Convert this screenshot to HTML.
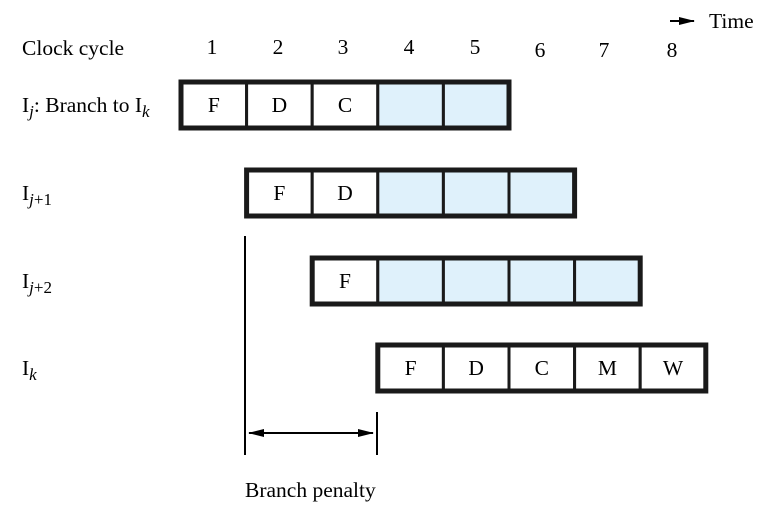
<!DOCTYPE html>
<html><head><meta charset="utf-8"><style>
body{margin:0;background:#fff}
svg{display:block;font-family:"Liberation Serif",serif}
</style></head><body>
<svg id="c" width="763" height="511" viewBox="0 0 763 511">
<defs><marker id="ah" markerUnits="userSpaceOnUse" markerWidth="16" markerHeight="8" refX="15" refY="4" orient="auto-start-reverse"><path d="M0,0 L16,4 L0,8 Z" fill="#000"/></marker></defs>
</svg>
<script>
const cycles=[1,2,3,4,5,6,7,8];
const rowLabels=["Ij: Branch to Ik","Ij+1","Ij+2","Ik"];
const rowStart=[1,2,3,4];
const rowStages=[["F","D","C","",""],["F","D","","",""],["F","","","",""],["F","D","C","M","W"]];
const x0=181,pitch=65.6,cellH=46;
const rowY=[82,170,258,345];
const numX=[212,278,343,409,475,540,604,672];
const numY=[54,54,54,54,54,57,57,57];
const xs=c=>x0+(c-1)*pitch;
const svg=document.getElementById('c');
const NS='http://www.w3.org/2000/svg';
const FS=21.5;
function mk(t,a,p){const e=document.createElementNS(NS,t);for(const k in a)e.setAttribute(k,a[k]);(p||svg).appendChild(e);return e;}
let t=mk('text',{x:22,y:55,'font-size':FS});t.textContent='Clock cycle';


cycles.forEach((c,i)=>{const e=mk('text',{x:numX[i],y:numY[i],'font-size':FS,'text-anchor':'middle'});e.textContent=c;

});
let a=mk('line',{x1:670,y1:21,x2:694,y2:21,stroke:'#000','stroke-width':2,'marker-end':'url(#ah)'});


t=mk('text',{x:709,y:28,'font-size':FS});t.textContent='Time';


const labHTML=[['I','j','',': Branch to I','k',''],['I','j','+1'],['I','j','+2'],['I','k','']];
rowLabels.forEach((l,r)=>{
  const y=rowY[r]+30;
  const e=mk('text',{x:22,y:y,'font-size':FS});
  
  
  const p=labHTML[r];
  let sub=false;
  p.forEach((s,i)=>{if(s==='')return;const ts=mk('tspan',{},e);ts.textContent=s;
    const isSub=(i%3!==0);
    if(isSub){ts.setAttribute('font-size',17);if(i%3===1)ts.setAttribute('font-style','italic');if(!sub)ts.setAttribute('dy',5);sub=true;}
    else{if(sub)ts.setAttribute('dy',-5);sub=false;}
  });
  const g=mk('g',{});
  
  
  const sx=xs(rowStart[r]),n=rowStages[r].length;
  rowStages[r].forEach((s,i)=>{
    const cx=sx+i*pitch;
    const rc=mk('rect',{x:cx,y:rowY[r],width:pitch,height:cellH,fill:s?'#fff':'#dff1fb',stroke:'#1a1a1a','stroke-width':3},g);
    
    
    if(s){const tt=mk('text',{x:cx+pitch/2,y:rowY[r]+30,'font-size':FS,'text-anchor':'middle'},g);tt.textContent=s;}
  });
  mk('rect',{x:sx,y:rowY[r],width:n*pitch,height:cellH,fill:'none',stroke:'#1a1a1a','stroke-width':5},g);
});
let v=mk('line',{x1:245,y1:236,x2:245,y2:455,stroke:'#000','stroke-width':2});


v=mk('line',{x1:377,y1:412,x2:377,y2:455,stroke:'#000','stroke-width':2});


v=mk('line',{x1:249,y1:433,x2:373,y2:433,stroke:'#000','stroke-width':2,'marker-start':'url(#ah)','marker-end':'url(#ah)'});


t=mk('text',{x:245,y:497,'font-size':FS});t.textContent='Branch penalty';


</script>
</body></html>
